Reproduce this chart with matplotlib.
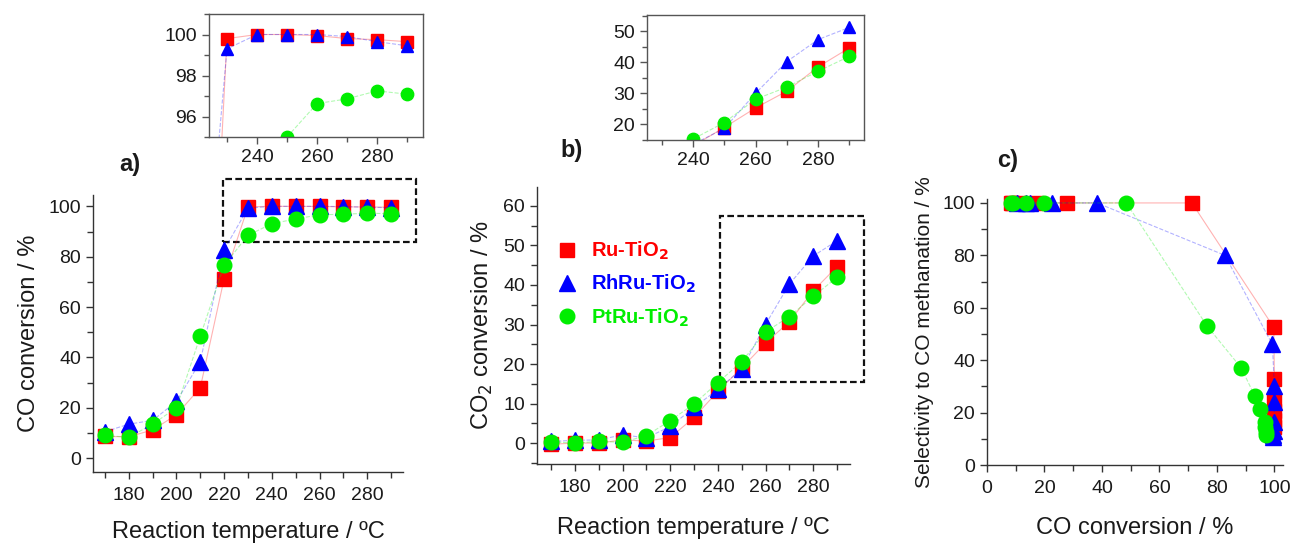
import matplotlib
matplotlib.use('Agg')
import matplotlib.pyplot as plt
from matplotlib.patches import Rectangle
from matplotlib.ticker import MultipleLocator

plt.rcParams['font.family'] = ['Liberation Sans', 'DejaVu Sans']

# Datos
temps = [170, 180, 190, 200, 210, 220, 230, 240, 250, 260, 270, 280, 290]

# a) conversion de CO / %
co_ru = [8.6, 8.5, 11.2, 17.2, 28.0, 71.3, 99.8, 100.0, 100.0, 99.95, 99.8, 99.75, 99.65]
co_rhru = [10.5, 13.5, 15.0, 22.5, 38.3, 82.8, 99.3, 100.0, 100.0, 100.0, 99.9, 99.65, 99.45]
co_ptru = [9.0, 8.3, 13.5, 20.0, 48.5, 76.6, 88.5, 93.1, 95.0, 96.63, 96.86, 97.25, 97.09]

# b) conversion de CO2 / %
co2_ru = [-0.3, 0.0, 0.0, 0.8, 0.5, 1.4, 6.5, 13.1, 19.0, 25.3, 30.7, 38.5, 44.6]
co2_rhru = [0.4, 0.7, 0.8, 2.1, 1.3, 4.2, 9.0, 13.6, 18.7, 30.0, 40.2, 47.3, 51.2]
co2_ptru = [0.3, 0.0, 0.4, 0.2, 1.9, 5.7, 9.9, 15.3, 20.6, 28.1, 32.0, 37.1, 41.9]

# c) selectividad a metanacion de CO / %
sel_ru = [100, 100, 100, 100, 100, 100, 52.5, 33.0, 24.5, 20.5, 17.0, 14.5, 12.5]
sel_rhru = [100, 100, 100, 100, 100, 80.0, 46.0, 30.3, 24.0, 16.5, 13.0, 11.5, 10.5]
sel_ptru = [100, 100, 100, 100, 100, 53.0, 37.0, 26.5, 21.5, 16.5, 14.5, 12.5, 11.5]

labels = [r'Ru-TiO$_\mathbf{2}$', r'RhRu-TiO$_\mathbf{2}$', r'PtRu-TiO$_\mathbf{2}$']
colors = ['#ff0000', '#0000ff', '#00ee00']
markers = ['s', '^', 'o']
msizes = [9.5, 11, 10.5]
lstyles = ['-', '--', '--']

TXT = '#1a1a1a'
W, H = 1295, 543


def frac(left, top, right, bottom):
    # convierte pixeles a fraccion de la figura
    return [left / W, 1 - bottom / H, (right - left) / W, (bottom - top) / H]


def draw_series(ax, x_list, y_list, scale=1.0, clip=False):
    for x, y, c, m, ms, ls, lab in zip(x_list, y_list, colors, markers, msizes, lstyles, labels):
        ax.plot(x, y, color=c, lw=0.8, ls=ls, alpha=0.3, clip_on=clip)
        ax.plot(x, y, ls='none', marker=m, ms=ms * scale, color=c, mec=c,
                clip_on=clip, label=lab)


def style_main(ax):
    ax.spines['top'].set_visible(False)
    ax.spines['right'].set_visible(False)
    for s in ['left', 'bottom']:
        ax.spines[s].set_color('#333333')
        ax.spines[s].set_linewidth(1.0)
    ax.tick_params(which='both', direction='out', colors='#333333', labelcolor=TXT,
                   labelsize=14, width=1.0)
    ax.tick_params(which='major', length=5)
    ax.tick_params(which='minor', length=4)
    ax.tick_params(axis='x', pad=6)


def style_inset(ax):
    for s in ax.spines.values():
        s.set_color('#555555')
        s.set_linewidth(1.0)
    ax.tick_params(which='both', direction='out', colors='#555555', labelcolor=TXT,
                   labelsize=14, width=1.0)
    ax.tick_params(which='major', length=5)
    ax.tick_params(which='minor', length=3.5)


fig = plt.figure(figsize=(12.95, 5.43), dpi=100)

# ---- a) ----
ax_a = fig.add_axes(frac(93, 195, 403, 472))
draw_series(ax_a, [temps] * 3, [co_ru, co_rhru, co_ptru])
ax_a.set_xlim(165, 295)
ax_a.set_ylim(-5.5, 104.5)
ax_a.set_xticks([180, 200, 220, 240, 260, 280])
ax_a.xaxis.set_minor_locator(MultipleLocator(10))
ax_a.yaxis.set_major_locator(MultipleLocator(20))
ax_a.yaxis.set_minor_locator(MultipleLocator(10))
style_main(ax_a)
ax_a.set_xlabel('Reaction temperature / ºC', fontsize=17, color=TXT, labelpad=12)
ax_a.set_ylabel('CO conversion / %', fontsize=17, color=TXT, labelpad=6)
ax_a.add_patch(Rectangle((219.5, 85.7), 81, 25.3, fill=False, ls=(0, (3, 1.5)),
                         lw=1.6, ec='#111111', clip_on=False))
ax_a.text(0.12, 1.07, 'a)', transform=ax_a.transAxes, fontsize=17,
          fontweight='bold', color=TXT, ha='center', va='bottom')

# inset a
ia = fig.add_axes(frac(209, 14, 423, 137))
draw_series(ia, [temps] * 3, [co_ru, co_rhru, co_ptru], scale=0.85, clip=True)
ia.set_xlim(224, 295.3)
ia.set_ylim(95, 101)
ia.set_xticks([240, 260, 280])
ia.xaxis.set_minor_locator(MultipleLocator(10))
ia.set_yticks([96, 98, 100])
ia.yaxis.set_minor_locator(MultipleLocator(1))
style_inset(ia)

# ---- b) ----
ax_b = fig.add_axes(frac(537, 187, 850, 464))
draw_series(ax_b, [temps] * 3, [co2_ru, co2_rhru, co2_ptru])
ax_b.set_xlim(164, 295.5)
ax_b.set_ylim(-5.3, 64.8)
ax_b.set_xticks([180, 200, 220, 240, 260, 280])
ax_b.xaxis.set_minor_locator(MultipleLocator(10))
ax_b.yaxis.set_major_locator(MultipleLocator(10))
ax_b.yaxis.set_minor_locator(MultipleLocator(5))
style_main(ax_b)
ax_b.set_xlabel('Reaction temperature / ºC', fontsize=17, color=TXT, labelpad=15)
ax_b.set_ylabel('CO$_2$ conversion / %', fontsize=17, color=TXT, labelpad=6)
ax_b.add_patch(Rectangle((241, 15.4), 60.4, 42.1, fill=False, ls=(0, (3, 1.5)),
                         lw=1.6, ec='#111111', clip_on=False))
ax_b.text(0.11, 1.09, 'b)', transform=ax_b.transAxes, fontsize=17,
          fontweight='bold', color=TXT, ha='center', va='bottom')
leg = ax_b.legend(loc='upper left', bbox_to_anchor=(0.005, 0.875), frameon=False,
                  handlelength=1.0, handletextpad=0.7, labelspacing=0.55,
                  prop={'weight': 'bold', 'size': 14.5})
for t, c in zip(leg.get_texts(), colors):
    t.set_color(c)

# inset b
ib = fig.add_axes(frac(647, 15, 864, 140))
draw_series(ib, [temps] * 3, [co2_ru, co2_rhru, co2_ptru], scale=0.85, clip=True)
ib.set_xlim(225.3, 294.7)
ib.set_ylim(15, 55.2)
ib.set_xticks([240, 260, 280])
ib.xaxis.set_minor_locator(MultipleLocator(10))
ib.set_yticks([20, 30, 40, 50])
ib.yaxis.set_minor_locator(MultipleLocator(5))
style_inset(ib)

# ---- c) ----
ax_c = fig.add_axes(frac(987, 199, 1283, 465))
draw_series(ax_c, [co_ru, co_rhru, co_ptru], [sel_ru, sel_rhru, sel_ptru])
ax_c.set_xlim(0, 103)
ax_c.set_ylim(0, 101.5)
ax_c.xaxis.set_major_locator(MultipleLocator(20))
ax_c.xaxis.set_minor_locator(MultipleLocator(10))
ax_c.yaxis.set_major_locator(MultipleLocator(20))
ax_c.yaxis.set_minor_locator(MultipleLocator(10))
style_main(ax_c)
ax_c.set_xlabel('CO conversion / %', fontsize=17, color=TXT, labelpad=14)
ax_c.set_ylabel('Selectivity to CO methanation / %', fontsize=15, color=TXT, labelpad=6)
ax_c.text(0.07, 1.1, 'c)', transform=ax_c.transAxes, fontsize=17,
          fontweight='bold', color=TXT, ha='center', va='bottom')

fig.savefig('out.png', dpi=100)
